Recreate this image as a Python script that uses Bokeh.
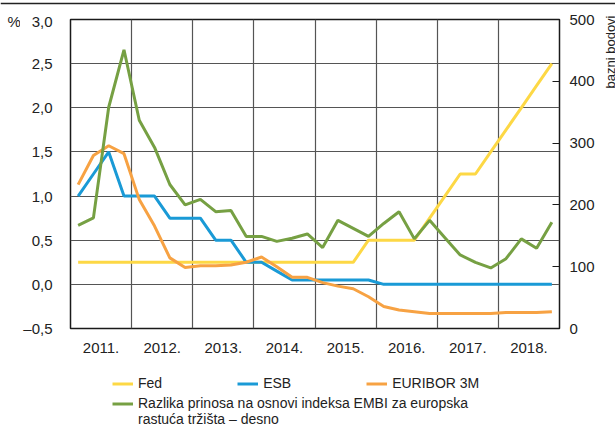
from math import pi
from bokeh.plotting import figure
from bokeh.models import (Range1d, LinearAxis, FixedTicker, CustomJSTickFormatter, Grid,
                          Legend, LegendItem, Label, Span, ColumnDataSource)
from bokeh.layouts import column, row
from bokeh.embed import file_html
from bokeh.resources import INLINE

# ---------------- data ----------------
years = [2011, 2012, 2013, 2014, 2015, 2016, 2017, 2018]
year_labels = ["2011.", "2012.", "2013.", "2014.", "2015.", "2016.", "2017.", "2018."]
quarters = [1, 2, 3, 4]

fed = [0.25, 0.25, 0.25, 0.25, 0.25, 0.25, 0.25, 0.25,
       0.25, 0.25, 0.25, 0.25, 0.25, 0.25, 0.25, 0.25,
       0.25, 0.25, 0.25, 0.50, 0.50, 0.50, 0.50, 0.75,
       1.00, 1.25, 1.25, 1.50, 1.75, 2.00, 2.25, 2.50]
esb = [1.00, 1.25, 1.50, 1.00, 1.00, 1.00, 0.75, 0.75,
       0.75, 0.50, 0.50, 0.25, 0.25, 0.15, 0.05, 0.05,
       0.05, 0.05, 0.05, 0.05, 0.00, 0.00, 0.00, 0.00,
       0.00, 0.00, 0.00, 0.00, 0.00, 0.00, 0.00, 0.00]
euribor = [1.13, 1.46, 1.57, 1.48, 0.96, 0.66, 0.30, 0.19,
           0.21, 0.21, 0.22, 0.25, 0.31, 0.20, 0.08, 0.08,
           0.02, -0.02, -0.05, -0.14, -0.25, -0.29, -0.31, -0.33,
           -0.33, -0.33, -0.33, -0.33, -0.32, -0.32, -0.32, -0.31]
embi = [167, 179, 358, 451, 337, 293, 233, 200,
        209, 189, 191, 149, 149, 141, 146, 153,
        131, 175, 162, 149, 170, 189, 145, 175,
        147, 119, 107, 98, 113, 145, 130, 172]

left_ticks = [-0.5, 0.0, 0.5, 1.0, 1.5, 2.0, 2.5, 3.0]
right_ticks = [0, 100, 200, 300, 400, 500]
left_unit = "%"
right_unit = "bazni bodovi"
labels_legend = ["Fed", "ESB", "EURIBOR 3M",
                 "Razlika prinosa na osnovi indeksa EMBI za europska",
                 "rastuća tržišta – desno"]

# quarter mid-points on a continuous year axis
xq = [y + (q - 0.5) / 4 for y in years for q in quarters]
src = ColumnDataSource(dict(x=xq, fed=fed, esb=esb, euribor=euribor, embi=embi))
cols = ["fed", "esb", "euribor", "embi"]

FONT = "Liberation Sans"
TXT = "#222222"
GRID = "#555555"
COLORS = ["#FDD845", "#1A9AD6", "#F7A243", "#76A043"]

H_TOP = 12
H_MAIN = 352

def strip(w, h, free=True):
    f = figure(width=w, height=h, output_backend="svg", toolbar_location=None, title=None,
               x_axis_location=None, y_axis_location=None,
               min_border_left=0, min_border_right=0, min_border_top=0, min_border_bottom=0,
               x_range=Range1d(0, w), y_range=Range1d(0, h))
    f.grid.visible = False
    f.outline_line_color = None
    if free and "frame_align" in f.properties():
        f.frame_align = False   # keep this strip's frame independent of the chart frame
    return f

# ---------------- main chart ----------------
p = figure(width=581, height=H_MAIN, output_backend="svg", toolbar_location=None, title=None,
           x_range=Range1d(years[0], years[-1] + 1), y_range=Range1d(-0.5, 3.0),
           min_border_left=48, min_border_right=42, min_border_top=7, min_border_bottom=36)
p.extra_y_ranges = {"right": Range1d(0, 500)}
p.outline_line_color = "#1a1a1a"
p.outline_line_width = 1.5

p.xgrid.visible = False
p.ygrid.ticker = FixedTicker(ticks=left_ticks)
p.ygrid.grid_line_color = GRID
p.ygrid.grid_line_width = 1.2
p.add_layout(Grid(dimension=0, ticker=FixedTicker(ticks=years[1:]), grid_line_color=GRID,
                  grid_line_width=1.2))

def plain(ax, size="15px"):
    ax.axis_line_color = None
    ax.minor_tick_line_color = None
    ax.major_label_text_font = FONT
    ax.major_label_text_font_size = size
    ax.major_label_text_color = TXT

ya = p.yaxis[0]
ya.ticker = FixedTicker(ticks=left_ticks)
ya.formatter = CustomJSTickFormatter(
    code="return (tick < 0 ? '\u2013' : '') + Math.abs(tick).toFixed(1).replace('.', ',');")
ya.major_tick_line_color = None
ya.major_label_standoff = 12
plain(ya)

xa = p.xaxis[0]
xa.ticker = FixedTicker(ticks=[y + 0.5 for y in years])
xa.formatter = CustomJSTickFormatter(args=dict(labels=year_labels, first=years[0]),
                                     code="return labels[Math.floor(tick) - first];")
xa.major_tick_line_color = None
xa.major_label_standoff = 8
plain(xa)

ra = LinearAxis(y_range_name="right", ticker=FixedTicker(ticks=right_ticks))
ra.major_tick_in = 7
ra.major_tick_out = 0
ra.major_tick_line_color = "#1a1a1a"
ra.major_label_standoff = 10
plain(ra)
p.add_layout(ra, "right")

for c, col in zip(cols, COLORS):
    p.line("x", c, source=src, line_color=col, line_width=3,
           y_range_name=("right" if c == "embi" else "default"))

# ---------------- top rule ----------------
top = strip(615, H_TOP)
top.add_layout(Span(location=H_TOP - 3, dimension="width", line_color="#222222", line_width=1.5))

# ---------------- unit strips ----------------
ls = strip(20, H_MAIN)
ls.add_layout(Label(x=7, y=H_MAIN - 9, text=left_unit, text_font=FONT, text_font_size="15px",
                    text_color=TXT, text_align="left", text_baseline="middle"))
rs = strip(14, H_MAIN)
rs.add_layout(Label(x=9, y=H_MAIN - 3, text=right_unit, angle=pi / 2, text_font=FONT,
                    text_font_size="13px", text_color=TXT, text_align="right",
                    text_baseline="middle"))

# ---------------- legend strip ----------------
q = strip(615, 64, free=False)
q.x_range = Range1d(0, 1)
q.y_range = Range1d(0, 1)
proxies = [q.line("x", c, source=src, line_color=col, line_width=3)
           for c, col in zip(cols, COLORS)]
blank = q.line("x", "embi", source=src, line_alpha=0, line_width=3)

def style(lg):
    lg.border_line_color = None
    lg.background_fill_alpha = 0
    lg.glyph_width = 21
    lg.glyph_height = 15
    lg.label_standoff = 5
    lg.padding = 0
    lg.margin = 0
    lg.spacing = 0
    lg.label_text_font = FONT
    lg.label_text_font_size = "14px"
    lg.label_text_color = TXT
    lg.label_height = 15

lg1 = Legend(items=[LegendItem(label=labels_legend[i], renderers=[proxies[i]]) for i in range(3)],
             orientation="horizontal", location=(112, 37))
style(lg1)
lg1.spacing = 75
lg2 = Legend(items=[LegendItem(label=labels_legend[3], renderers=[proxies[3]]),
                    LegendItem(label=labels_legend[4], renderers=[blank])],
             location=(112, 1))
style(lg2)
q.add_layout(lg1, "center")
q.add_layout(lg2, "center")

layout = column(top, row(ls, p, rs, spacing=0), q, spacing=0)

open("out.html", "w").write(file_html(layout, INLINE))
